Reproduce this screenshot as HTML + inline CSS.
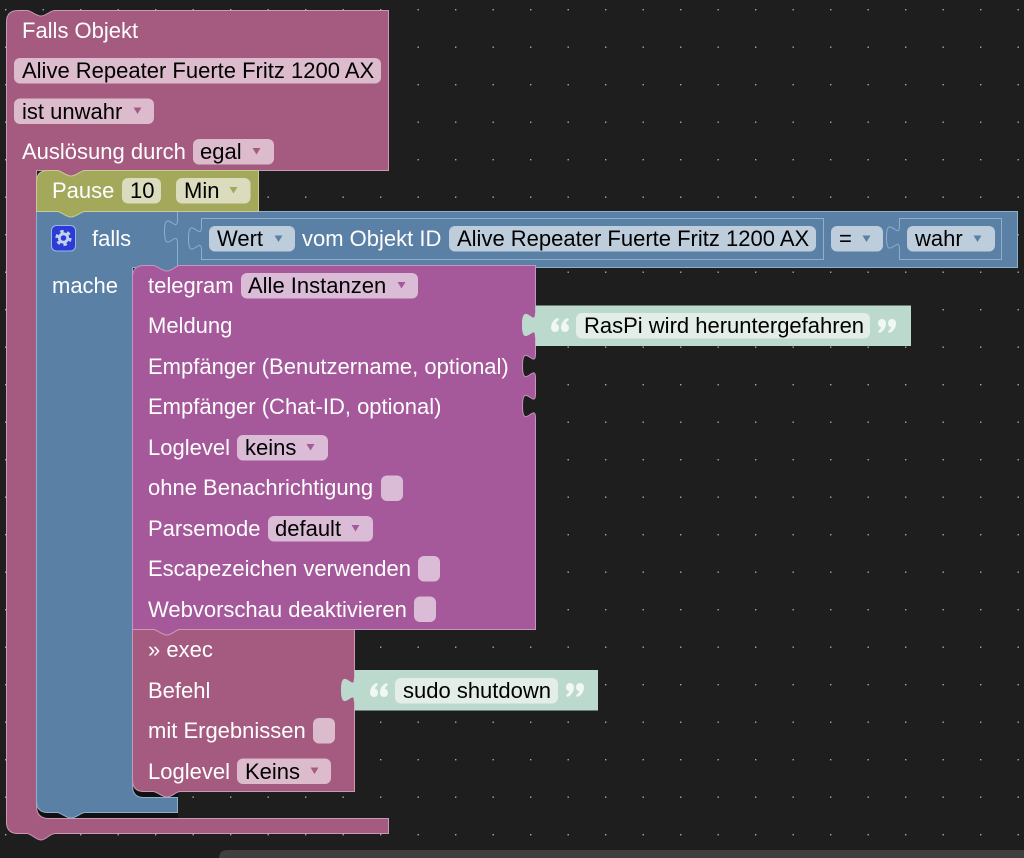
<!DOCTYPE html>
<html><head><meta charset="utf-8"><style>
html,body{margin:0;padding:0;background:#1e1e1e;width:1024px;height:858px;overflow:hidden}
svg{display:block}
text{font-family:"Liberation Sans",sans-serif;font-size:22px}
.w{fill:#fff}.b{fill:#000}
.q{fill:#f0f7f4}
</style></head><body>
<svg width="1024" height="858" viewBox="0 0 1024 858" xmlns="http://www.w3.org/2000/svg">
<defs><pattern id="g" x="5" y="9" width="37.5" height="37.5" patternUnits="userSpaceOnUse"><rect x="0" y="0" width="1.4" height="1.4" fill="#a8a8a8"/></pattern></defs>
<rect width="1024" height="858" fill="#1e1e1e"/>
<rect width="1024" height="845" fill="url(#g)"/>
<path d="M219,858 Q219,850 228,850 H1024 V858 Z" fill="#3f3f3f"/>

<!-- dark shadow behind statements -->
<path d="M37,795 H178 V818 H37 Z" fill="#101010"/>
<path d="M133,775 H178 V798 H133 Z" fill="#101010"/>

<!-- outer pink -->
<path d="M6.500,22 Q6.500,10.500 18,10.500 H27 C31,10.500 36,16 41,16 C46,16 50,10.500 55,10.500 H388.500 V170.500 H85 C81,170.500 76,176 71,176 C66,176 61,170.500 57,170.500 H36.500 V806 Q36.500,818.500 49,818.500 H388.500 V833.500 H55 C50,833.500 46,840 41,840 C36,840 31,833.500 27,833.500 H18 Q6.500,833.500 6.500,822 Z" fill="#a55b80" stroke="#c99ab2" stroke-width="1"/>

<!-- blue -->
<path d="M36.500,211.500 H1017.500 V267.500 H180 C176,267.500 172,272 167,272 C162,272 157,267.500 153,267.500 H132.500 V786 Q132.500,797.500 144,797.500 H177.500 V812.500 H85 C81,812.500 76,818 71,818 C66,818 61,812.500 57,812.500 H48 Q36.500,812.500 36.500,801 Z" fill="#5b80a5" stroke="#8fb0cc" stroke-width="1"/>
<!-- blue inner connectors -->
<path d="M177.500,211.500 V219.500 c0,16 -13,-13 -13,12 s13,-4 13,12 V266" fill="none" stroke="#8fb0cc" stroke-width="1"/>
<path d="M201.500,218.500 H823.500 V259.500 H201.500 V250.500 C201.500,234.500 188.500,263.500 188.500,238.500 C188.500,213.500 201.500,242.500 201.500,226.500 Z" fill="#5b80a5" stroke="#8fb0cc" stroke-width="1"/>
<path d="M899.500,218.500 H1001.500 V259.500 H899.500 V249.500 C899.500,233.500 886.500,262.500 886.500,237.500 C886.500,212.500 899.500,241.500 899.500,225.500 Z" fill="#5b80a5" stroke="#8fb0cc" stroke-width="1"/>

<!-- olive -->
<path d="M36.500,182 Q36.500,170.500 48,170.500 H57 C61,170.500 66,176 71,176 C76,176 81,170.500 85,170.500 H258.500 V211.500 H85 C81,211.500 76,217 71,217 C66,217 61,211.500 57,211.500 H36.500 Z" fill="#a3a85b" stroke="#c8cc94" stroke-width="1"/>

<!-- telegram -->
<path d="M132.500,277 Q132.500,265.500 144,265.500 H153 C157,265.500 162,271 167,271 C172,271 176,265.500 180,265.500 H535.500 V313 c0,16 -13,-13 -13,12 s13,-4 13,12 V354 c0,16 -13,-13 -13,12 s13,-4 13,12 V394 c0,16 -13,-13 -13,12 s13,-4 13,12 V629.500 H180 C176,629.500 172,635 167,635 C162,635 157,629.500 153,629.500 H132.500 Z" fill="#a5589a" stroke="#c695bf" stroke-width="1"/>

<!-- exec -->
<path d="M132.500,629.500 H153 C157,629.500 162,635 167,635 C172,635 176,629.500 180,629.500 H354.500 V678 c0,16 -13,-13 -13,12 s13,-4 13,12 V791.500 H180 C176,791.500 172,797 167,797 C162,797 157,791.500 153,791.500 H144 Q132.500,791.500 132.500,780 Z" fill="#a55b80" stroke="#c99ab2" stroke-width="1"/>

<!-- strings -->
<path d="M535.500,305.500 H911 V346 H535.500 Z" fill="#bcd9ce"/>
<path d="M535.500,313 c0,16 -13,-13 -13,12 s13,-4 13,12 Z" fill="#bcd9ce" stroke="#bcd9ce" stroke-width="1"/>
<path d="M354.500,670 H598 V710.500 H354.500 Z" fill="#bcd9ce"/>
<path d="M354.500,678 c0,16 -13,-13 -13,12 s13,-4 13,12 Z" fill="#bcd9ce" stroke="#bcd9ce" stroke-width="1"/>

<!-- fields pink -->
<g fill="#dcbccc">
<rect x="14" y="58" width="367" height="25.500" rx="6"/>
<rect x="14" y="98.500" width="140" height="25.500" rx="6"/>
<rect x="193" y="139" width="81" height="25.500" rx="6"/>
<rect x="313" y="718" width="22" height="25.500" rx="6"/>
<rect x="237" y="758.500" width="94" height="25.500" rx="6"/>
</g>
<g fill="#dbdbbd">
<rect x="122" y="178" width="39" height="25.500" rx="6"/>
<rect x="176" y="178" width="74.500" height="25.500" rx="6"/>
</g>
<g fill="#bdcddb">
<rect x="209" y="226" width="86" height="25.500" rx="6"/>
<rect x="449" y="226" width="367" height="25.500" rx="6"/>
<rect x="831" y="226" width="52" height="25.500" rx="6"/>
<rect x="907" y="226" width="88" height="25.500" rx="6"/>
</g>
<g fill="#dbbcd6">
<rect x="241" y="273" width="177" height="25.500" rx="6"/>
<rect x="237" y="435" width="91" height="25.500" rx="6"/>
<rect x="381" y="475.500" width="22" height="25.500" rx="6"/>
<rect x="268" y="516" width="105" height="25.500" rx="6"/>
<rect x="418" y="556" width="22" height="25.500" rx="6"/>
<rect x="414" y="596.500" width="22" height="25.500" rx="6"/>
</g>
<g fill="#e4eee9">
<rect x="576" y="313" width="294" height="25.500" rx="6"/>
<rect x="395" y="678" width="163" height="25.500" rx="6"/>
</g>

<!-- dropdown arrows -->
<g fill="#a55b80">
<path d="M133.500,107.500 h8 l-4,6.500z"/><path d="M252.500,148 h8 l-4,6.500z"/><path d="M310.500,767.500 h8 l-4,6.500z"/>
</g>
<path d="M229.500,187 h8 l-4,6.500z" fill="#a3a85b"/>
<g fill="#5b80a5">
<path d="M274.500,235.500 h8 l-4,6.500z"/><path d="M862.500,235.500 h8 l-4,6.500z"/><path d="M973.500,235.500 h8 l-4,6.500z"/>
</g>
<g fill="#a5589a">
<path d="M397.500,282 h8 l-4,6.500z"/><path d="M306.500,444 h8 l-4,6.500z"/><path d="M351.500,525 h8 l-4,6.500z"/>
</g>

<!-- gear icon -->
<rect x="51.500" y="225.500" width="24" height="25.500" rx="5" fill="#2a3bd6" stroke="#9db4e8" stroke-width="1"/>
<circle cx="63.500" cy="238" r="6.800" fill="none" stroke="#c4d2f0" stroke-width="2.600" stroke-dasharray="3.500 3.620"/>
<circle cx="63.500" cy="238" r="4.200" fill="none" stroke="#c4d2f0" stroke-width="2.800"/>

<!-- quotes icons -->
<path class="q" transform="translate(551,318)" d="M0,10 C0,5 3,1 7,0 L8,2 C6,3 5,4.500 5,6 C7,6 8,8 8,10 A4,4 0 1 1 0,10 Z M10,10 C10,5 13,1 17,0 L18,2 C16,3 15,4.500 15,6 C17,6 18,8 18,10 A4,4 0 1 1 10,10 Z"/>
<path class="q" transform="translate(896,333) rotate(180)" d="M0,10 C0,5 3,1 7,0 L8,2 C6,3 5,4.500 5,6 C7,6 8,8 8,10 A4,4 0 1 1 0,10 Z M10,10 C10,5 13,1 17,0 L18,2 C16,3 15,4.500 15,6 C17,6 18,8 18,10 A4,4 0 1 1 10,10 Z"/>
<path class="q" transform="translate(370,683)" d="M0,10 C0,5 3,1 7,0 L8,2 C6,3 5,4.500 5,6 C7,6 8,8 8,10 A4,4 0 1 1 0,10 Z M10,10 C10,5 13,1 17,0 L18,2 C16,3 15,4.500 15,6 C17,6 18,8 18,10 A4,4 0 1 1 10,10 Z"/>
<path class="q" transform="translate(584,697) rotate(180)" d="M0,10 C0,5 3,1 7,0 L8,2 C6,3 5,4.500 5,6 C7,6 8,8 8,10 A4,4 0 1 1 0,10 Z M10,10 C10,5 13,1 17,0 L18,2 C16,3 15,4.500 15,6 C17,6 18,8 18,10 A4,4 0 1 1 10,10 Z"/>

<!-- labels -->
<text class="w" x="22" y="38">Falls Objekt</text>
<text class="b" x="22" y="78">Alive Repeater Fuerte Fritz 1200 AX</text>
<text class="b" x="22" y="119">ist unwahr</text>
<text class="w" x="22" y="159">Auslösung durch</text>
<text class="b" x="200" y="159">egal</text>
<text class="w" x="52" y="198">Pause</text>
<text class="b" x="130" y="198">10</text>
<text class="b" x="184" y="198">Min</text>
<text class="w" x="92" y="246">falls</text>
<text class="w" x="52" y="293">mache</text>
<text class="b" x="217" y="246">Wert</text>
<text class="w" x="302" y="246">vom Objekt ID</text>
<text class="b" x="457" y="246">Alive Repeater Fuerte Fritz 1200 AX</text>
<text class="b" x="839" y="246">=</text>
<text class="b" x="915" y="246">wahr</text>
<text class="w" x="148" y="293">telegram</text>
<text class="b" x="248" y="293">Alle Instanzen</text>
<text class="w" x="148" y="333">Meldung</text>
<text class="w" x="148" y="374">Empfänger (Benutzername, optional)</text>
<text class="w" x="148" y="414">Empfänger (Chat-ID, optional)</text>
<text class="w" x="148" y="455">Loglevel</text>
<text class="b" x="245" y="455">keins</text>
<text class="w" x="148" y="495">ohne Benachrichtigung</text>
<text class="w" x="148" y="536">Parsemode</text>
<text class="b" x="275" y="536">default</text>
<text class="w" x="148" y="576">Escapezeichen verwenden</text>
<text class="w" x="148" y="617">Webvorschau deaktivieren</text>
<text class="w" x="148" y="657">» exec</text>
<text class="w" x="148" y="698">Befehl</text>
<text class="w" x="148" y="738">mit Ergebnissen</text>
<text class="w" x="148" y="779">Loglevel</text>
<text class="b" x="245" y="779">Keins</text>
<text class="b" x="584" y="333">RasPi wird heruntergefahren</text>
<text class="b" x="403" y="698">sudo shutdown</text>
</svg>
</body></html>
